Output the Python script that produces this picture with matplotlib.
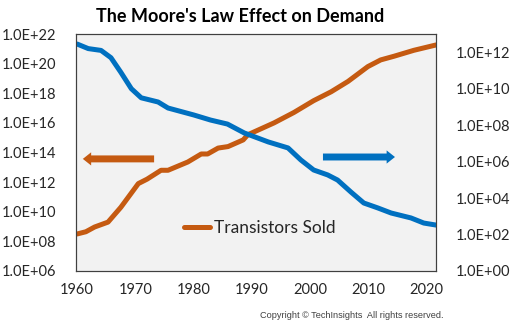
import numpy as np
import matplotlib
matplotlib.use("Agg")
import matplotlib.pyplot as plt
from matplotlib.ticker import FixedLocator

# Transistors sold (left axis, log10 values)
years_sold = [1960, 1961.5, 1963, 1965.3, 1967.5, 1970.5, 1972, 1974.4, 1975.6, 1979, 1981.3,
              1982.4, 1984.2, 1985.9, 1988.5, 1989.3, 1993.8, 1997.2, 2000.6, 2003.6,
              2006.5, 2009.9, 2012.1, 2014.4, 2017.8, 2021.6]
log_sold = [8.5, 8.65, 8.97, 9.3, 10.3, 11.9, 12.2, 12.8, 12.8, 13.36, 13.9,
            13.9, 14.3, 14.4, 14.85, 15.2, 16.0, 16.7, 17.5, 18.1,
            18.8, 19.8, 20.25, 20.5, 20.9, 21.26]

# Second series (right axis, log10 values)
years_price = [1960, 1961.9, 1964.1, 1965.8, 1967.5, 1969.3, 1971, 1973.9, 1975.6, 1980,
               1982.9, 1985.8, 1988.7, 1992.8, 1996.2, 1998.4, 2000.6, 2003, 2004.7,
               2007, 2009.2, 2011.6, 2013.9, 2017.3, 2019.5, 2021.6]
log_price = [12.45, 12.2, 12.1, 11.7, 10.9, 10.0, 9.5, 9.27, 8.94, 8.56,
             8.28, 8.06, 7.57, 7.08, 6.75, 6.09, 5.54, 5.27, 4.99,
             4.33, 3.73, 3.46, 3.18, 2.91, 2.63, 2.52]

left_ticks = [1e6, 1e8, 1e10, 1e12, 1e14, 1e16, 1e18, 1e20, 1e22]
right_ticks = [1e0, 1e2, 1e4, 1e6, 1e8, 1e10, 1e12]
x_ticks = [1960, 1970, 1980, 1990, 2000, 2010, 2020]

orange = '#c55a11'
blue = '#0070c0'
font = ['Lato', 'DejaVu Sans']


def sci(v):
    return '1.0E+%02d' % int(round(np.log10(v)))


fig = plt.figure(figsize=(5.12, 3.22), dpi=100)
ax = fig.add_axes([0.1484, 0.1584, 0.7032, 0.736])
ax.set_facecolor('#f2f2f2')
ax2 = ax.twinx()

ax.plot(years_sold, 10 ** np.array(log_sold), color=orange, lw=3.6,
        solid_capstyle='round', solid_joinstyle='round', label='Transistors Sold')
ax2.plot(years_price, 10 ** np.array(log_price), color=blue, lw=3.6,
         solid_capstyle='round', solid_joinstyle='round')

ax.set_yscale('log')
ax2.set_yscale('log')
ax.set_ylim(1e6, 1e22)
ax2.set_ylim(1e0, 1e13)
ax.set_xlim(1959.8, 2021.6)

ax.yaxis.set_major_locator(FixedLocator(left_ticks))
ax.set_yticklabels([sci(v) for v in left_ticks], family=font, fontsize=10.5, color='#262626')
ax.yaxis.set_minor_locator(FixedLocator([]))
ax2.yaxis.set_major_locator(FixedLocator(right_ticks))
ax2.set_yticklabels([sci(v) for v in right_ticks], family=font, fontsize=10.5, color='#262626')
ax2.yaxis.set_minor_locator(FixedLocator([]))
ax.set_xticks(x_ticks)
ax.set_xticklabels([str(x) for x in x_ticks], family=font, fontsize=10.5, color='#262626')

ax.tick_params(axis='y', length=0, pad=14)
ax2.tick_params(axis='y', length=0, pad=14)
ax.tick_params(axis='x', length=0, pad=9)
for a in (ax, ax2):
    for s in a.spines.values():
        s.set_color('#404040')
        s.set_linewidth(0.8)

# direction arrows
style = 'simple,head_length=0.6,head_width=0.95,tail_width=0.5'
ax.annotate('', xy=(0.019, 0.473), xytext=(0.217, 0.473), xycoords='axes fraction',
            arrowprops=dict(arrowstyle=style, color=orange, lw=0, shrinkA=0, shrinkB=0))
ax.annotate('', xy=(0.886, 0.481), xytext=(0.686, 0.481), xycoords='axes fraction',
            arrowprops=dict(arrowstyle=style, color=blue, lw=0, shrinkA=0, shrinkB=0))

ax.legend(loc='center', bbox_to_anchor=(0.51, 0.18), frameon=False,
          handlelength=1.5, handletextpad=0.2, prop={'family': font, 'size': 12.5},
          labelcolor='#262626')

fig.text(240 / 512, 1 - 16 / 322, "The Moore's Law Effect on Demand", ha='center', va='center',
         family=font, fontsize=13, fontweight='bold', color='black')
fig.text(443 / 512, 1 - 316 / 322, 'Copyright \u00a9 TechInsights  All rights reserved.',
         ha='right', va='center', family=['Liberation Sans', 'DejaVu Sans'], fontsize=6.6,
         color='#404040')

fig.savefig('out.png', dpi=100)
